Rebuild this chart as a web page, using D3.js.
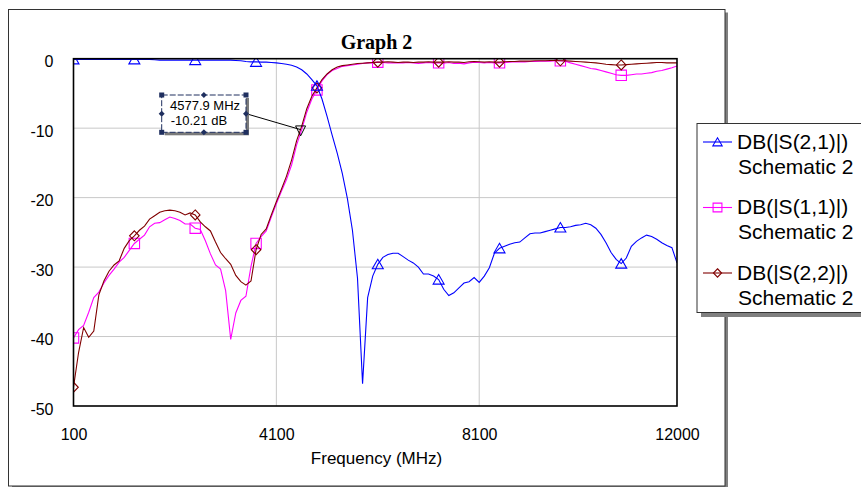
<!DOCTYPE html>
<html>
<head>
<meta charset="utf-8">
<script src="https://cdn.jsdelivr.net/npm/d3@7"></script>
<style>
  body { margin: 0; background: #fff; }
  svg { display: block; font-family: Arial, 'Liberation Sans', sans-serif; }
</style>
</head>
<body>
<div id="chart"></div>
<script>
// frequency sweep, MHz
const freqs = d3.range(100, 12001, 100);

// DB(|S(2,1)|)
const s21 = [
  -0.1, -0.1, -0.1, -0.1, -0.1, -0.1, -0.1, -0.1, -0.1, -0.1,
  -0.1, -0.1, -0.1, -0.1, -0.1, -0.1, -0.15, -0.2, -0.2, -0.2,
  -0.2, -0.2, -0.2, -0.2, -0.2, -0.2, -0.2, -0.2, -0.2, -0.2,
  -0.2, -0.2, -0.25, -0.3, -0.4, -0.45, -0.45, -0.5, -0.5, -0.55,
  -0.6, -0.7, -0.8, -0.95, -1.2, -1.6, -2.2, -3.0, -3.9, -5.8,
  -8.3, -11.0, -13.6, -16.5, -20.1, -24.7, -31.6, -46.8, -34.4, -31.3,
  -29.6, -28.6, -28.2, -28.0, -28.0, -28.5, -29.0, -29.4, -30.0, -31.0,
  -31.0, -31.3, -31.8, -33.2, -34.1, -33.7, -33.0, -32.3, -32.1, -31.5,
  -32.2, -31.3, -30.1, -28.0, -27.3, -27.0, -26.7, -26.5, -26.4, -25.8,
  -25.2, -25.1, -25.1, -24.9, -24.7, -24.5, -24.3, -24.3, -24.2, -24.0,
  -23.9, -23.7, -23.9, -24.4, -25.3, -26.5, -27.9, -28.9, -29.5, -28.7,
  -27.0, -26.3, -25.8, -25.4, -25.6, -26.0, -26.5, -26.9, -27.2, -29.4
];

// DB(|S(1,1)|)
const s11 = [
  -40.2, -39.0, -38.4, -36.5, -34.4, -33.6, -32.3, -31.2, -30.3, -29.3,
  -28.6, -27.6, -26.6, -26.0, -25.4, -24.2, -23.7, -23.6, -23.2, -22.8,
  -23.0, -23.3, -23.8, -23.8, -24.4, -24.6, -26.2, -28.1, -29.7, -30.3,
  -33.4, -40.4, -36.6, -34.8, -34.2, -29.9, -26.6, -25.6, -24.8, -22.8,
  -20.9, -19.1, -17.4, -15.3, -12.4, -10.2, -7.7, -5.8, -4.5, -3.2,
  -2.3, -1.7, -1.4, -1.1, -1.0, -0.9, -0.8, -0.7, -0.6, -0.6,
  -0.5, -0.55, -0.6, -0.6, -0.6, -0.6, -0.55, -0.6, -0.7, -0.6,
  -0.55, -0.6, -0.6, -0.65, -0.55, -0.7, -0.65, -0.75, -0.6, -0.5,
  -0.55, -0.6, -0.55, -0.6, -0.6, -0.55, -0.5, -0.45, -0.45, -0.45,
  -0.4, -0.4, -0.35, -0.35, -0.35, -0.3, -0.3, -0.35, -0.6, -0.8,
  -1.0, -1.2, -1.4, -1.5, -1.7, -1.9, -2.1, -2.3, -2.4, -2.4,
  -2.3, -2.2, -2.2, -2.1, -2.0, -1.8, -1.7, -1.5, -1.3, -1.05
];

// DB(|S(2,2)|)
const s22 = [
  -47.3, -42.3, -38.7, -40.1, -39.2, -34.0, -32.0, -30.6, -29.7, -29.1,
  -27.3, -26.2, -25.5, -24.7, -24.1, -23.1, -22.6, -22.1, -21.9, -21.8,
  -21.9, -22.1, -22.5, -22.2, -22.5, -23.5, -24.2, -24.8, -26.4, -27.9,
  -28.8, -29.6, -31.2, -32.1, -32.6, -32.0, -27.5, -25.3, -24.5, -22.5,
  -20.6, -18.8, -16.9, -14.6, -11.8, -9.7, -7.2, -5.4, -4.2, -3.0,
  -2.2, -1.6, -1.2, -1.0, -0.9, -0.8, -0.7, -0.65, -0.6, -0.55,
  -0.5, -0.5, -0.45, -0.5, -0.55, -0.5, -0.5, -0.55, -0.5, -0.5,
  -0.45, -0.5, -0.5, -0.5, -0.45, -0.5, -0.5, -0.55, -0.45, -0.4,
  -0.45, -0.5, -0.45, -0.5, -0.5, -0.45, -0.4, -0.4, -0.35, -0.35,
  -0.35, -0.3, -0.3, -0.3, -0.25, -0.25, -0.3, -0.3, -0.35, -0.4,
  -0.45, -0.5, -0.55, -0.6, -0.7, -0.8, -0.85, -0.9, -0.9, -0.85,
  -0.8, -0.75, -0.7, -0.65, -0.6, -0.55, -0.55, -0.6, -0.6, -0.6
];

const seriesLabels = ['DB(|S(2,1)|)', 'DB(|S(1,1)|)', 'DB(|S(2,2)|)'];
const sourceLabel = 'Schematic 2';
const markerFreqs = [100, 1300, 2500, 3700, 4900, 6100, 7300, 8500, 9700, 10900];
const xTicks = [100, 4100, 8100, 12000];
const yTicks = [0, -10, -20, -30, -40, -50];
const readout = [4577.9, -10.21];

const width = 861;
const height = 487;
const plot = { left: 73.5, top: 58.7, right: 677, bottom: 406 };

const svg = d3
  .select('#chart')
  .append('svg')
  .attr('width', width)
  .attr('height', height)
  .attr('viewBox', `0 0 ${width} ${height}`);

svg.append('rect').attr('width', width).attr('height', height).attr('fill', '#fff');

// outer graph frame with shadow
svg.append('rect').attr('x', 12).attr('y', 12.5).attr('width', 716).attr('height', 480).attr('fill', '#808080');
svg
  .append('rect')
  .attr('x', 8.5)
  .attr('y', 9.5)
  .attr('width', 716.5)
  .attr('height', 476.5)
  .attr('fill', '#fff')
  .attr('stroke', '#333')
  .attr('stroke-width', 1);

const x = d3.scaleLinear().domain([100, 12000]).range([plot.left, plot.right]);
const y = d3.scaleLinear().domain([-50, 0]).range([plot.bottom, plot.top]);

svg
  .append('text')
  .text('Graph 2')
  .attr('x', 376.5)
  .attr('y', 49)
  .attr('text-anchor', 'middle')
  .style('font-family', "'Times New Roman', 'Liberation Serif', serif")
  .style('font-weight', 700)
  .style('font-size', '20px');

// grid
const grid = svg.append('g').attr('stroke', '#c8c8c8').attr('stroke-width', 1);
grid
  .selectAll('.hgrid')
  .data(yTicks.filter((d) => d !== 0 && d !== -50))
  .enter()
  .append('line')
  .attr('x1', plot.left)
  .attr('x2', plot.right)
  .attr('y1', (d) => y(d))
  .attr('y2', (d) => y(d));
grid
  .selectAll('.vgrid')
  .data(xTicks.filter((d) => d !== 100 && d !== 12000))
  .enter()
  .append('line')
  .attr('x1', (d) => x(d))
  .attr('x2', (d) => x(d))
  .attr('y1', plot.top)
  .attr('y2', plot.bottom);

// axes (plain hyphen for the minus sign, as in the original)
const plain = (d) => String(d);
const yAxis = svg
  .append('g')
  .attr('transform', `translate(${plot.left},0)`)
  .call(d3.axisLeft(y).tickValues(yTicks).tickSize(0).tickPadding(20).tickFormat(plain));
const xAxis = svg
  .append('g')
  .attr('transform', `translate(0,${plot.bottom})`)
  .call(d3.axisBottom(x).tickValues(xTicks).tickSize(0).tickPadding(22.6).tickFormat(plain));

[yAxis, xAxis].forEach((a) => {
  a.select('.domain').remove();
  a.selectAll('text').style('font-family', "Arial, 'Liberation Sans', sans-serif").style('font-size', '16px').attr('fill', '#000');
});
yAxis.selectAll('text').attr('dy', '0.5em');

svg
  .append('text')
  .text('Frequency (MHz)')
  .attr('x', 376.5)
  .attr('y', 464)
  .attr('text-anchor', 'middle')
  .style('font-size', '17px');

// traces
svg
  .append('clipPath')
  .attr('id', 'plot-clip')
  .append('rect')
  .attr('x', plot.left)
  .attr('y', plot.top)
  .attr('width', plot.right - plot.left)
  .attr('height', plot.bottom - plot.top);

const shapes = {
  triangle: (s) => `M0,${-5 * s}L${5.5 * s},${4.5 * s}L${-5.5 * s},${4.5 * s}Z`,
  square: (s) => `M${-5.2 * s},${-5.2 * s}h${10.4 * s}v${10.4 * s}h${-10.4 * s}Z`,
  diamond: (s) => `M0,${-5 * s}L${4.8 * s},0L0,${5 * s}L${-4.8 * s},0Z`,
};

const series = [
  { label: seriesLabels[0], values: s21, color: '#0000ff', shape: 'triangle' },
  { label: seriesLabels[1], values: s11, color: '#ff00ff', shape: 'square' },
  { label: seriesLabels[2], values: s22, color: '#800000', shape: 'diamond' },
];

const traces = svg.append('g').attr('clip-path', 'url(#plot-clip)');
const line = d3
  .line()
  .x((d) => x(d[0]))
  .y((d) => y(d[1]));

[1, 2, 0].forEach((i) => {
  const s = series[i];
  const pts = freqs.map((f, j) => [f, s.values[j]]);
  traces
    .append('path')
    .attr('d', line(pts))
    .attr('fill', 'none')
    .attr('stroke', s.color)
    .attr('stroke-width', 1.1);
  traces
    .selectAll(`.mk-${i}`)
    .data(pts.filter((p) => markerFreqs.includes(p[0])))
    .enter()
    .append('path')
    .attr('d', shapes[s.shape](1))
    .attr('transform', (p) => `translate(${x(p[0])},${y(p[1])})`)
    .attr('fill', 'none')
    .attr('stroke', s.color)
    .attr('stroke-width', 1.1);
});

svg
  .append('rect')
  .attr('x', plot.left)
  .attr('y', plot.top)
  .attr('width', plot.right - plot.left)
  .attr('height', plot.bottom - plot.top)
  .attr('fill', 'none')
  .attr('stroke', '#000')
  .attr('stroke-width', 1.6);

// readout marker and its label box
const rx = x(readout[0]);
const ry = y(readout[1]);
const box = { x0: 161.7, y0: 95, x1: 246, y1: 132.3 };

svg
  .append('line')
  .attr('x1', box.x1)
  .attr('y1', (box.y0 + box.y1) / 2)
  .attr('x2', rx)
  .attr('y2', ry)
  .attr('stroke', '#000')
  .attr('stroke-width', 1);
svg
  .append('path')
  .attr('d', `M-5,-3.7L5,-3.7L0,6.3Z`)
  .attr('transform', `translate(${rx},${ry})`)
  .attr('fill', 'none')
  .attr('stroke', '#000')
  .attr('stroke-width', 1);

svg
  .append('rect')
  .attr('x', box.x0 + 3)
  .attr('y', box.y0 + 3)
  .attr('width', box.x1 - box.x0)
  .attr('height', box.y1 - box.y0)
  .attr('fill', '#7a7a7a');
svg
  .append('rect')
  .attr('x', box.x0)
  .attr('y', box.y0)
  .attr('width', box.x1 - box.x0)
  .attr('height', box.y1 - box.y0)
  .attr('fill', '#fff')
  .attr('stroke', '#1f2f5f')
  .attr('stroke-width', 1)
  .attr('stroke-dasharray', '6 2');

svg
  .append('text')
  .text(`${readout[0]} MHz`)
  .attr('x', 170)
  .attr('y', 110)
  .style('font-size', '13px');
svg
  .append('text')
  .text(`${readout[1]} dB`)
  .attr('x', 170.7)
  .attr('y', 124.5)
  .style('font-size', '13px');

const xm = (box.x0 + box.x1) / 2;
const ym = (box.y0 + box.y1) / 2;
const corners = [[box.x0, box.y0], [box.x1, box.y0], [box.x0, box.y1], [box.x1, box.y1]];
const mids = [[xm, box.y0], [xm, box.y1], [box.x0, ym], [box.x1, ym]];
svg
  .selectAll('.handle-sq')
  .data(corners)
  .enter()
  .append('rect')
  .attr('x', (d) => d[0] - 2.5)
  .attr('y', (d) => d[1] - 2.5)
  .attr('width', 5)
  .attr('height', 5)
  .attr('fill', '#1f2f5f');
svg
  .selectAll('.handle-dm')
  .data(mids)
  .enter()
  .append('path')
  .attr('d', 'M0,-3L3,0L0,3L-3,0Z')
  .attr('transform', (d) => `translate(${d[0]},${d[1]})`)
  .attr('fill', '#1f2f5f');

// legend
const legend = svg.append('g');
legend.append('rect').attr('x', 701).attr('y', 127.5).attr('width', 200).attr('height', 189.5).attr('fill', '#808080');
legend
  .append('rect')
  .attr('x', 697)
  .attr('y', 123.5)
  .attr('width', 200)
  .attr('height', 189)
  .attr('fill', '#fff')
  .attr('stroke', '#333')
  .attr('stroke-width', 1);

series.forEach((s, i) => {
  const base = 148.5 + i * 65.5;
  const ly = base - 6.5;
  legend.append('line').attr('x1', 703).attr('x2', 732).attr('y1', ly).attr('y2', ly).attr('stroke', s.color).attr('stroke-width', 1.1);
  legend
    .append('path')
    .attr('d', shapes[s.shape](0.85))
    .attr('transform', `translate(717.5,${ly})`)
    .attr('fill', 'none')
    .attr('stroke', s.color)
    .attr('stroke-width', 1.1);
  legend.append('text').text(s.label).attr('x', 737).attr('y', base).style('font-size', '21px');
  legend.append('text').text(sourceLabel).attr('x', 738).attr('y', base + 25).style('font-size', '21px');
});
</script>
</body>
</html>
